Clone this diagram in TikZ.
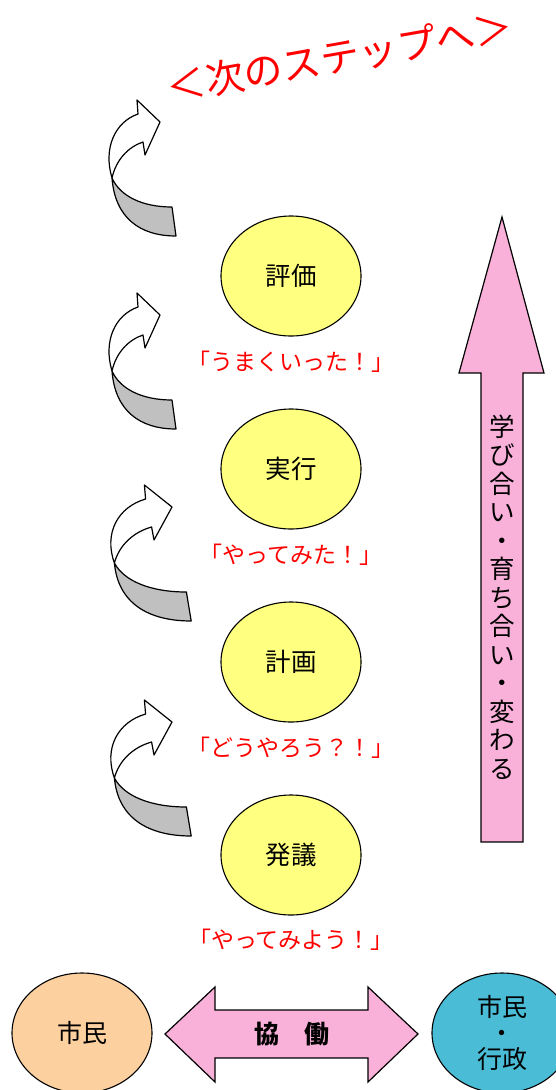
\documentclass[tikz,border=0pt]{standalone}
\usepackage{fontspec}
\setmainfont{Noto Sans CJK JP}
\definecolor{stepyellow}{RGB}{255,255,128}
\definecolor{arrowpink}{RGB}{249,176,217}
\definecolor{citorange}{RGB}{253,208,160}
\definecolor{govblue}{RGB}{75,188,214}
\definecolor{backgray}{RGB}{192,192,192}
\newcommand\curvedstep[3]{%
  \begin{scope}[shift={(#1,#2)},xscale=#3]
    \draw[outline] (12,88) .. controls (20,106) and (42,117) .. (72,117) -- (76,146) .. controls (40,146) and (15,128) .. (12,88) -- cycle;
    \draw[outline,fill=white] (12,88) .. controls (3,58) and (15,32) .. (38,24) -- (37,10) -- (60,32) -- (45,65) -- (43,52) .. controls (28,57) and (16,70) .. (12,88) -- cycle;
  \end{scope}}
\begin{document}
\begin{tikzpicture}[x=1pt,y=-1pt,
  outline/.style={draw=black,line width=1.2pt,line join=round,fill=backgray},
  stepnode/.style={ellipse,draw=black,line width=1.1pt,fill=stepyellow,minimum width=140pt,minimum height=120pt,inner sep=0pt,font=\fontsize{25.5}{28}\selectfont},
  saying/.style={text=red,font=\fontsize{23}{25}\selectfont},
  pinkarrow/.style={draw=black,line width=1.2pt,fill=arrowpink,line join=miter}]
\useasboundingbox (0,0) rectangle (556,1090);
\usetikzlibrary{shapes.geometric}
% title
\node[text=red,rotate=10,font=\fontsize{39}{42}\selectfont] (title) at (340,57) {＜次のステップへ＞};
% curved arrows
\curvedstep{100}{90}{1}
\curvedstep{100}{283}{1}
\curvedstep{100}{475}{1.2}
\curvedstep{100}{690}{1.2}
% steps
\node[stepnode] (hyoka) at (291,276) {評価};
\node[stepnode] (jikko) at (291,469) {実行};
\node[stepnode] (keikaku) at (291,662) {計画};
\node[stepnode] (hatsugi) at (291,855) {発議};
\node[saying] (s1) at (291,362) {「うまくいった！」};
\node[saying] (s2) at (291,555) {「やってみた！」};
\node[saying] (s3) at (291,748) {「どうやろう？！」};
\node[saying] (s4) at (291,940) {「やってみよう！」};
% big up arrow
\draw[pinkarrow] (502,217) -- (544,373) -- (523,373) -- (523,842) -- (481,842) -- (481,373) -- (459,373) -- cycle;
\node[align=center,font=\fontsize{25.5}{28.5}\selectfont,inner sep=0pt] (grow) at (502,597)
  {学\\び\\合\\い\\・\\育\\ち\\合\\い\\・\\変\\わ\\る};
% bottom
\node[ellipse,draw=black,line width=1.1pt,fill=citorange,minimum width=140pt,minimum height=120pt,inner sep=0pt,font=\fontsize{25}{28}\selectfont] (citizen) at (82,1033) {市民};
\node[ellipse,draw=black,line width=1.1pt,fill=govblue,minimum width=140pt,minimum height=120pt,inner sep=0pt] (gov) at (502,1033) {};
\node[align=center,font=\fontsize{25}{26}\selectfont,inner sep=0pt] (govtext) at (gov.center) {市民\\・\\行政};
\draw[pinkarrow] (165,1034) -- (215,987) -- (215,1010) -- (368,1010) -- (368,987) -- (418,1034) -- (368,1082) -- (368,1058) -- (215,1058) -- (215,1082) -- cycle;
\node[font=\fontsize{25}{28}\selectfont\bfseries] (kyodo) at (292,1034) {協　働};
\end{tikzpicture}
\end{document}
